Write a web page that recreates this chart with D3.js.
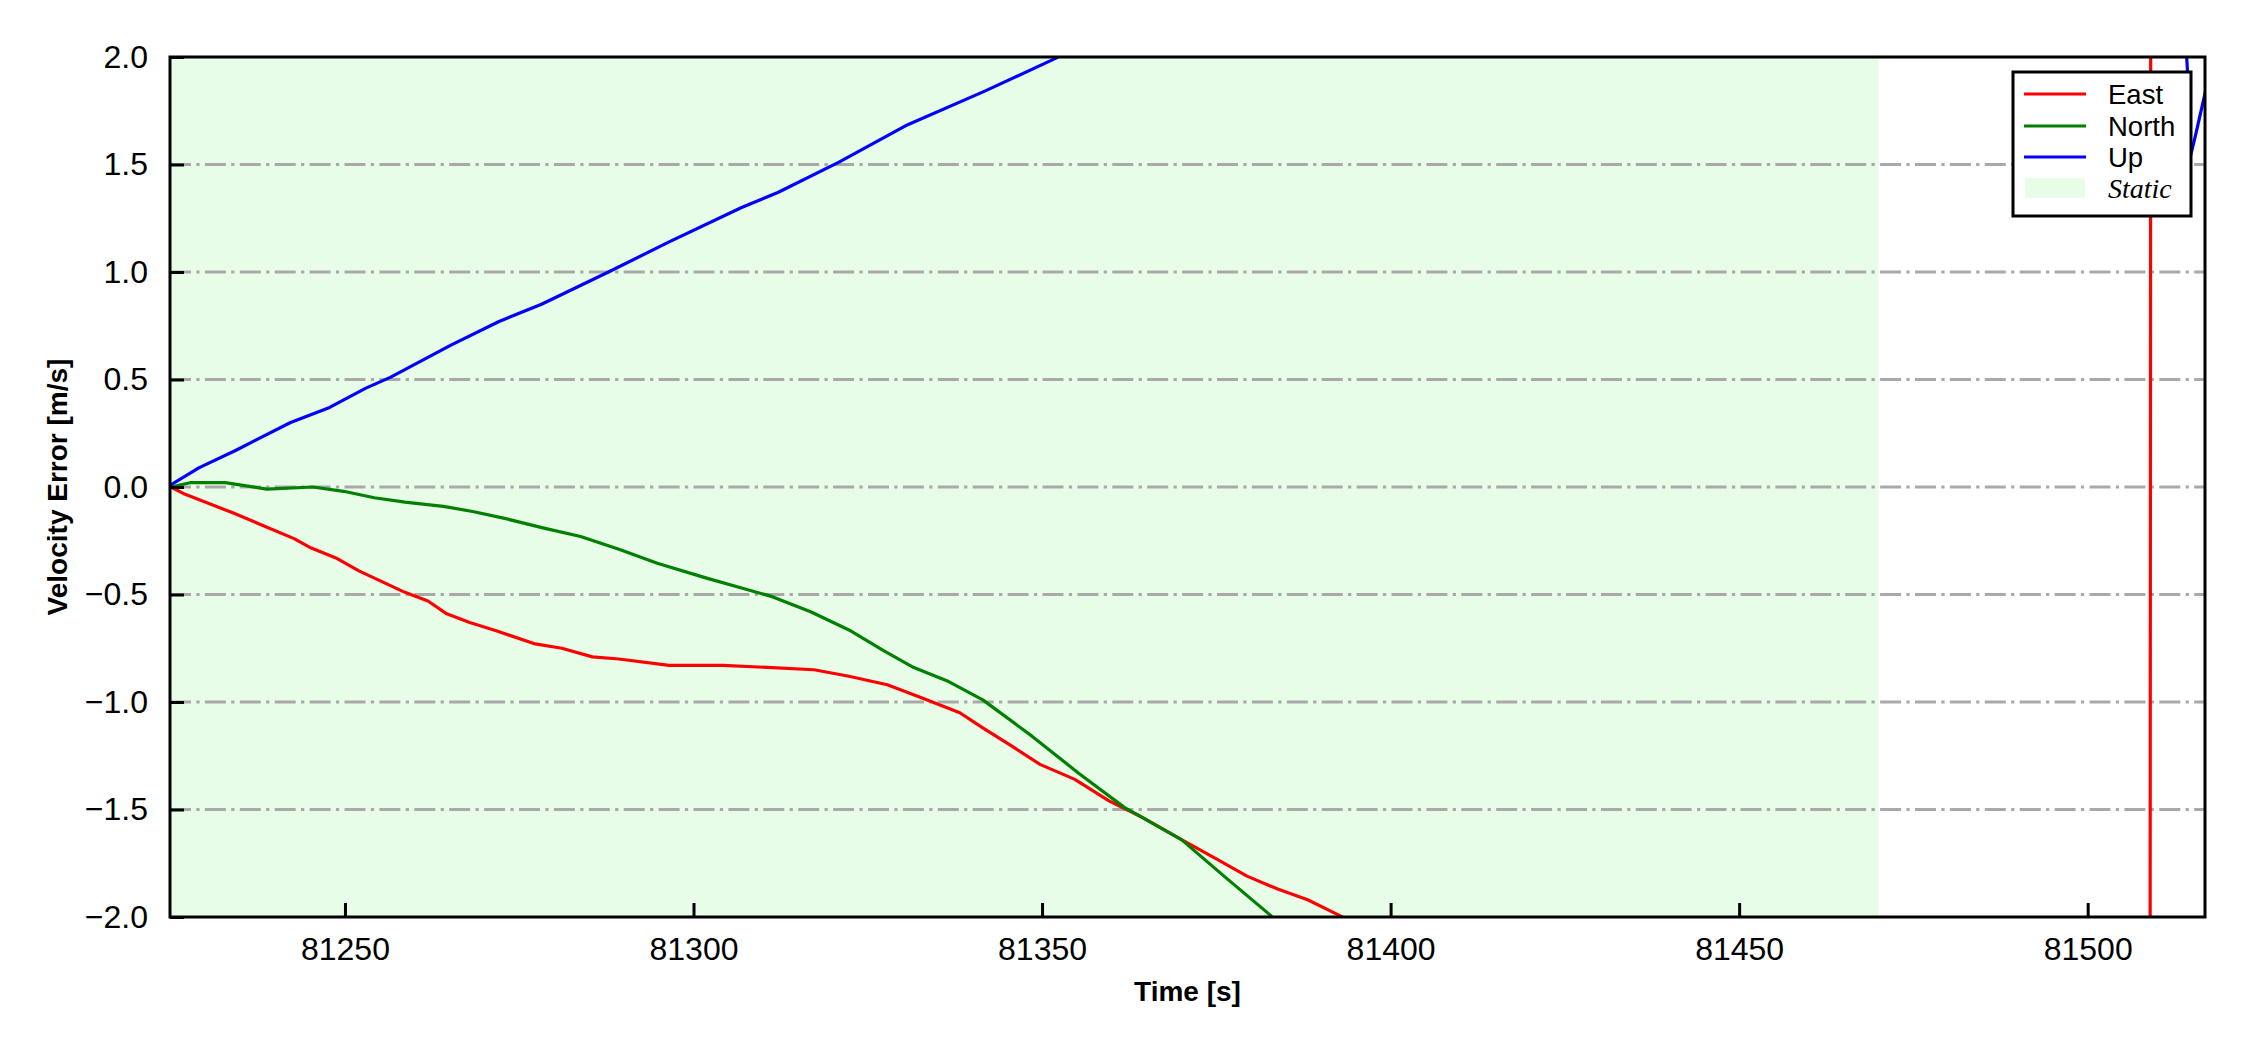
<!DOCTYPE html>
<html>
<head>
<meta charset="utf-8">
<script src="https://cdn.jsdelivr.net/npm/d3@7"></script>
<style>
  html, body { margin: 0; padding: 0; background: #fff; }
  svg { display: block; }
</style>
</head>
<body>
<svg id="chart" width="2250" height="1050"></svg>
<script>
// ---------------- data ----------------
const xDomain = [81224.9, 81516.83];
const yDomain = [-2.0, 2.0];
const xTicks = [81250, 81300, 81350, 81400, 81450, 81500];
const yTicks = [-2.0, -1.5, -1.0, -0.5, 0.0, 0.5, 1.0, 1.5, 2.0];
const staticSpan = [81224.9, 81470];

const eastT = [81225, 81226.8, 81233.9, 81238.3, 81242.7, 81244.9, 81248.7, 81252.0, 81255.3, 81258.6,
  81261.9, 81264.6, 81267.9, 81271.8, 81277.3, 81281.1, 81285.5, 81289.3, 81296.5, 81304.2,
  81311.3, 81317.3, 81322.3, 81327.8, 81332.7, 81338.2, 81341.5, 81345.9, 81349.7, 81354.7,
  81359.6, 81364.0, 81370.0, 81375.0, 81379.4, 81383.8, 81388.1, 81392.5, 81396.0, 81508.95, 81509.05];
const eastV = [0.0, -0.03, -0.12, -0.18, -0.24, -0.28, -0.33, -0.39, -0.44, -0.49,
  -0.53, -0.59, -0.63, -0.67, -0.73, -0.75, -0.79, -0.80, -0.83, -0.83,
  -0.84, -0.85, -0.88, -0.92, -0.98, -1.05, -1.12, -1.21, -1.29, -1.36,
  -1.46, -1.53, -1.64, -1.73, -1.81, -1.87, -1.92, -1.99, -2.05, -2.6, 2.6];

const northT = [81225, 81227.8, 81232.8, 81238.8, 81245.4, 81249.8, 81254.2, 81258.6, 81264.1, 81268.5,
  81272.9, 81278.4, 81283.8, 81289.3, 81294.8, 81302.0, 81306.9, 81311.3, 81316.8, 81322.3,
  81327.2, 81331.6, 81336.6, 81341.5, 81348.6, 81355.2, 81361.8, 81370.0, 81376.1, 81382.7, 81385.0];
const northV = [0.0, 0.02, 0.02, -0.01, 0.0, -0.02, -0.05, -0.07, -0.09, -0.115,
  -0.146, -0.19, -0.23, -0.29, -0.355, -0.425, -0.47, -0.51, -0.58, -0.665,
  -0.76, -0.84, -0.905, -0.99, -1.16, -1.33, -1.49, -1.64, -1.81, -1.99, -2.06];

const upT = [81225, 81229.1, 81234.3, 81242.2, 81247.8, 81253.0, 81256.5, 81265.2, 81272.1, 81278.2,
  81287.8, 81296.5, 81306.9, 81312.1, 81320.8, 81330.4, 81341.7, 81351.7, 81356.0, 81514.0,
  81514.2, 81514.5, 81514.75, 81515.5, 81516.83, 81517.5];
const upV = [0.01, 0.09, 0.17, 0.30, 0.37, 0.46, 0.51, 0.66, 0.77, 0.85,
  1.00, 1.14, 1.30, 1.37, 1.51, 1.68, 1.84, 1.99, 2.06, 2.1,
  2.0, 1.83, 1.54, 1.64, 1.83, 1.92];

const seriesNames = ["East", "North", "Up"];
const seriesColors = ["#ff0000", "#008000", "#0000ff"];
const staticLabel = "Static";

// ---------------- layout ----------------
const W = 2250, H = 1050;
const margin = { left: 170, right: 45, top: 57, bottom: 133 };
const iw = W - margin.left - margin.right;
const ih = H - margin.top - margin.bottom;

const svg = d3.select("#chart");
const g = svg.append("g").attr("transform", `translate(${margin.left},${margin.top})`);

const x = d3.scaleLinear().domain(xDomain).range([0, iw]);
const y = d3.scaleLinear().domain(yDomain).range([ih, 0]);

svg.append("defs").append("clipPath").attr("id", "clip")
  .append("rect").attr("x", 0).attr("y", 0).attr("width", iw).attr("height", ih);

// static span
g.append("rect")
  .attr("x", x(staticSpan[0])).attr("y", 0)
  .attr("width", x(staticSpan[1]) - x(staticSpan[0]))
  .attr("height", ih)
  .attr("fill", "#e8fde8");

// grid
g.append("g").selectAll("line").data(yTicks.filter(d => d > yDomain[0] && d < yDomain[1]))
  .join("line")
  .attr("x1", 0).attr("x2", iw)
  .attr("y1", d => y(d)).attr("y2", d => y(d))
  .attr("stroke", "#a9a9a9").attr("stroke-width", 3)
  .attr("stroke-dasharray", "21,5.3,3.3,5.3");

// lines
const series = [
  { t: eastT, v: eastV },
  { t: northT, v: northV },
  { t: upT, v: upV }
];
const line = d3.line().x(d => x(d[0])).y(d => y(d[1]));
const lg = g.append("g").attr("clip-path", "url(#clip)");
series.forEach((s, i) => {
  const pts = s.t.map((t, j) => [t, s.v[j]]);
  lg.append("path").datum(pts)
    .attr("d", line)
    .attr("fill", "none")
    .attr("stroke", seriesColors[i])
    .attr("stroke-width", 3.2)
    .attr("stroke-linejoin", "round");
});

// axes
const fontSans = "'Liberation Sans', Arial, sans-serif";
const xAxis = d3.axisBottom(x).tickValues(xTicks).tickFormat(d3.format("d"))
  .tickSizeInner(-14).tickSizeOuter(0).tickPadding(20);
const yAxis = d3.axisLeft(y).tickValues(yTicks)
  .tickFormat(d => d3.format(".1f")(d).replace("-", "\u2212"))
  .tickSizeInner(-14).tickSizeOuter(0).tickPadding(22);

const gx = g.append("g").attr("transform", `translate(0,${ih})`).call(xAxis);
const gy = g.append("g").call(yAxis);
[gx, gy].forEach(a => {
  a.select(".domain").remove();
  a.selectAll(".tick line").attr("stroke", "#000").attr("stroke-width", 3);
  a.selectAll(".tick text").attr("font-family", fontSans).attr("font-size", 32).attr("fill", "#000");
});
gx.selectAll(".tick text").attr("dy", "0.71em");

// frame
g.append("rect").attr("x", 0).attr("y", 0).attr("width", iw).attr("height", ih)
  .attr("fill", "none").attr("stroke", "#000").attr("stroke-width", 3);

// axis labels
svg.append("text")
  .attr("x", margin.left + iw / 2).attr("y", 1001)
  .attr("text-anchor", "middle")
  .attr("font-family", fontSans).attr("font-weight", "bold").attr("font-size", 28)
  .text("Time [s]");
svg.append("text")
  .attr("transform", `translate(67,${margin.top + ih / 2}) rotate(-90)`)
  .attr("text-anchor", "middle")
  .attr("font-family", fontSans).attr("font-weight", "bold").attr("font-size", 28)
  .text("Velocity Error [m/s]");

// legend
const leg = svg.append("g").attr("transform", "translate(2013,72)");
leg.append("rect").attr("x", 0).attr("y", 0).attr("width", 178).attr("height", 144)
  .attr("fill", "#fff").attr("stroke", "#000").attr("stroke-width", 3);
const rowY = [22, 54, 85, 116];
seriesNames.forEach((name, i) => {
  leg.append("line").attr("x1", 11).attr("x2", 73).attr("y1", rowY[i]).attr("y2", rowY[i])
    .attr("stroke", seriesColors[i]).attr("stroke-width", 3.2);
  leg.append("text").attr("x", 95).attr("y", rowY[i]).attr("dy", "0.35em")
    .attr("font-family", fontSans).attr("font-size", 27.5).text(name);
});
leg.append("rect").attr("x", 12).attr("y", rowY[3] - 10).attr("width", 60).attr("height", 20)
  .attr("fill", "#e8fde8");
leg.append("text").attr("x", 95).attr("y", rowY[3]).attr("dy", "0.35em")
  .attr("font-family", "'Liberation Serif', 'Times New Roman', serif")
  .attr("font-style", "italic").attr("font-size", 28).text(staticLabel);
</script>
</body>
</html>
